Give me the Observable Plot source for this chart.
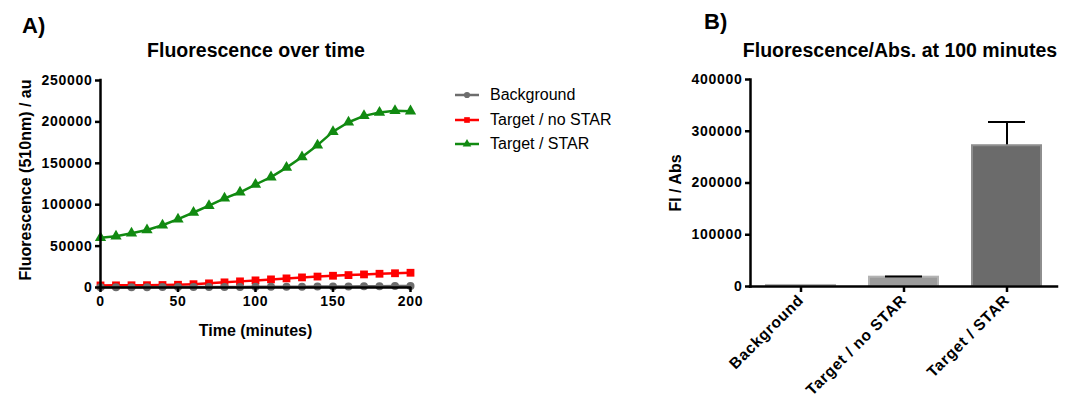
<!DOCTYPE html>
<html>
<head>
<meta charset="utf-8">
<script src="https://cdn.jsdelivr.net/npm/d3@7"></script>
<script src="https://cdn.jsdelivr.net/npm/@observablehq/plot@0.6"></script>
<style>
  body { margin: 0; background: #fff; }
  #wrap { position: relative; width: 1080px; height: 414px; overflow: hidden; font-family: "Liberation Sans", Arial, sans-serif; color: #000; }
  .abs { position: absolute; }
  .panel { font-weight: bold; font-size: 22px; }
  .title { font-weight: bold; font-size: 19.5px; white-space: nowrap; transform: translateX(-50%); }
  .legend { font-size: 16px; }
  .legend .row { display: flex; align-items: center; height: 24.5px; }
  .legend svg { margin-right: 10px; }
  svg [aria-label="y-axis tick label"], svg [aria-label="x-axis tick label"] { letter-spacing: 0.7px; }
</style>
</head>
<body>
<div id="wrap">
  <div class="abs panel" style="left:22px; top:13px;">A)</div>
  <div class="abs panel" style="left:704px; top:9px;">B)</div>
  <div class="abs title" style="left:256px; top:39px;">Fluorescence over time</div>
  <div class="abs title" style="left:900px; top:39px;">Fluorescence/Abs. at 100 minutes</div>
  <div class="abs legend" id="legend" style="left:454px; top:83px;"></div>
</div>
<script>
// ---- Data: panel A (fluorescence over time) ----
const time = [0,10,20,30,40,50,60,70,80,90,100,110,120,130,140,150,160,170,180,190,200];
const background = [300,300,400,400,500,500,600,600,700,700,800,900,900,1000,1100,1200,1300,1400,1500,1700,1900];
const noStar = [2500,2600,2700,2800,3000,3300,4000,5000,6200,7400,8600,9800,11000,12200,13200,14200,15000,15800,16600,17200,17800];
const star = [60100,61800,65500,69500,75200,82500,90600,98800,107700,115000,124400,133300,144800,157700,171900,188200,199600,207300,211300,213400,213000];
const seriesNames = ["Background", "Target / no STAR", "Target / STAR"];
const yTicksA = [0,50000,100000,150000,200000,250000];
const xTicksA = [0,50,100,150,200];

// ---- Data: panel B (Fl/Abs at 100 minutes) ----
const categories = ["Background", "Target / no STAR", "Target / STAR"];
const ratio = [2000, 18000, 272000];
const ratioErr = [null, 1500, 46000];
const yTicksB = [0,100000,200000,300000,400000];

const colors = {"Background": "#6d6d6d", "Target / no STAR": "#ff0000", "Target / STAR": "#118a11"};
const symbols = {"Background": "circle", "Target / no STAR": "square", "Target / STAR": "triangle"};
const radii = {"Background": 4, "Target / no STAR": 4.4, "Target / STAR": 4.2};

const seriesValues = [background, noStar, star];
const rowsA = [];
seriesNames.forEach((s, i) => time.forEach((t, j) => rowsA.push({series: s, time: t, value: seriesValues[i][j]})));

const fontStyle = {fontFamily: "'Liberation Sans', Arial, sans-serif", fontSize: "14px", fontWeight: "bold", color: "#000", background: "transparent", overflow: "visible"};

const drawOrder = ["Target / STAR", "Target / no STAR", "Background"];
const seriesMarks = drawOrder.flatMap(s => {
  const d = rowsA.filter(r => r.series === s);
  return [
    Plot.line(d, {x: "time", y: "value", stroke: colors[s], strokeWidth: 2.5}),
    Plot.dot(d, {x: "time", y: "value", symbol: () => symbols[s], fill: colors[s], stroke: "none", r: radii[s]})
  ];
});

const plotA = Plot.plot({
  width: 440, height: 414,
  marginLeft: 100, marginRight: 30, marginTop: 80, marginBottom: 127,
  x: {domain: [0, 200]},
  y: {domain: [0, 250000]},
  symbol: {type: "identity"},
  style: fontStyle,
  marks: [
    ...seriesMarks,
    Plot.ruleX([0], {stroke: "#000", strokeWidth: 2.5, strokeLinecap: "square"}),
    Plot.ruleY([0], {stroke: "#000", strokeWidth: 2.5, strokeLinecap: "square"}),
    Plot.axisY({ticks: yTicksA, tickFormat: d => String(d), tickSize: 5, tickPadding: 3, strokeWidth: 2.5, label: null}),
    Plot.axisX({ticks: xTicksA, tickFormat: d => String(d), tickSize: 5, tickPadding: 4, strokeWidth: 2.5, label: null}),
    Plot.text(["Fluorescence (510nm) / au"], {frameAnchor: "left", dx: -75, dy: -4, rotate: -90, textAnchor: "middle", fontSize: 16, fontWeight: "bold", text: d => d}),
    Plot.text(["Time (minutes)"], {frameAnchor: "bottom", dy: 48, fontSize: 16, fontWeight: "bold", text: d => d})
  ]
});
plotA.style.position = "absolute";
plotA.style.left = "0px";
plotA.style.top = "0px";
document.getElementById("wrap").appendChild(plotA);

// ---- Panel B ----
const rowsB = categories.map((c, i) => ({cat: c, value: ratio[i], err: ratioErr[i]}));
const barFill = {"Background": "#9b9b9b", "Target / no STAR": "#9b9b9b", "Target / STAR": "#6b6b6b"};
const barStroke = {"Background": "#b3b3b3", "Target / no STAR": "#b3b3b3", "Target / STAR": "#8e8e8e"};
const errRows = rowsB.filter(d => d.err != null);

const plotB = Plot.plot({
  width: 420, height: 414,
  marginLeft: 90, marginRight: 23, marginTop: 79, marginBottom: 128,
  x: {type: "band", domain: categories, paddingInner: 0.31, paddingOuter: 0.145},
  y: {domain: [0, 400000]},
  style: fontStyle,
  marks: [
    Plot.ruleX(errRows, {x: "cat", y1: "value", y2: d => d.value + d.err, stroke: "#000", strokeWidth: 2}),
    Plot.barY(rowsB, {x: "cat", y: "value", fill: d => barFill[d.cat], stroke: d => barStroke[d.cat], strokeWidth: 2, insetLeft: 1, insetRight: 1}),
    Plot.tickY(errRows, {x: "cat", y: d => d.value + d.err, stroke: "#000", strokeWidth: 2, insetLeft: 17, insetRight: 17}),
    Plot.frame({anchor: "left", stroke: "#000", strokeWidth: 2.5}),
    Plot.ruleY([0], {stroke: "#000", strokeWidth: 2.5, strokeLinecap: "square"}),
    Plot.axisY({ticks: yTicksB, tickFormat: d => String(d), tickSize: 5, tickPadding: 3, strokeWidth: 2.5, label: null}),
    Plot.axisX({tickRotate: -45, tickSize: 6, tickPadding: 5, strokeWidth: 2.5, fontSize: 15.5, label: null}),
    Plot.text(["FI / Abs"], {frameAnchor: "left", dx: -75, rotate: -90, textAnchor: "middle", fontSize: 16, fontWeight: "bold", text: d => d})
  ]
});
plotB.style.position = "absolute";
plotB.style.left = "660px";
plotB.style.top = "0px";
document.getElementById("wrap").appendChild(plotB);

// ---- Legend for panel A ----
const legend = document.getElementById("legend");
seriesNames.forEach(s => {
  const row = document.createElement("div");
  row.className = "row";
  const sym = d3.symbol(s === "Background" ? d3.symbolCircle : s === "Target / no STAR" ? d3.symbolSquare : d3.symbolTriangle, s === "Background" ? 30 : 32)();
  row.innerHTML = `<svg width="26" height="12" viewBox="0 0 26 12"><line x1="1" y1="6" x2="25" y2="6" stroke="${colors[s]}" stroke-width="2.5"/><path d="${sym}" transform="translate(13,6)" fill="${colors[s]}"/></svg><span>${s}</span>`;
  legend.appendChild(row);
});
</script>
</body>
</html>
